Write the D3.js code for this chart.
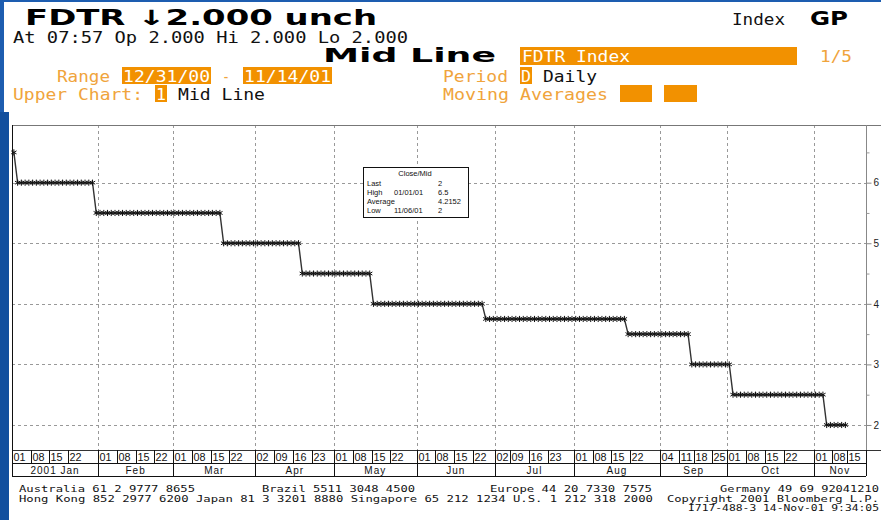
<!DOCTYPE html>
<html>
<head>
<meta charset="utf-8">
<title>FDTR Index - Mid Line</title>
<script src="https://cdnjs.cloudflare.com/ajax/libs/d3/7.8.5/d3.min.js"></script>
<style>
  body { margin: 0; background: #fff; }
  svg { display: block; }
</style>
</head>
<body>
<svg id="chart" width="881" height="520"></svg>
<script>
// fed funds target: first day each level prints, and the level
var changeDates = ["2001-01-01", "2001-01-02", "2001-01-31", "2001-03-20", "2001-04-18", "2001-05-15",
                   "2001-06-27", "2001-08-21", "2001-09-17", "2001-10-02", "2001-11-06"];
var targetRates = [6.5, 6.0, 5.5, 5.0, 4.5, 4.0, 3.75, 3.5, 3.0, 2.5, 2.0];

// weekdays without a print
var closedDays = ["2001-05-28", "2001-07-04", "2001-09-03", "2001-09-11", "2001-11-12"];

var monthNames = ["2001 Jan", "Feb", "Mar", "Apr", "May", "Jun", "Jul", "Aug", "Sep", "Oct", "Nov"];
var weekLabels = [
    ["01", "08", "15", "22"], ["01", "08", "15", "22"], ["01", "08", "15", "22"], ["02", "09", "16", "23"],
    ["01", "08", "15", "22"], ["01", "08", "15", "22"], ["02", "09", "16", "23"], ["01", "08", "15", "22"],
    ["04", "11", "18", "25"], ["01", "08", "15", "22"], ["01", "08", "15"]
];
var yTicks = [2, 3, 4, 5, 6];
var yMinor = [2.5, 3.5, 4.5, 5.5, 6.5];
var statRows = [["Last", "", "2"], ["High", "01/01/01", "6.5"], ["Average", "", "4.2152"], ["Low", "11/06/01", "2"]];

var footerLines = [
    ["Australia 61 2 9777 8655", 19, 492, 176],
    ["Brazil 5511 3048 4500", 262, 492, 153],
    ["Europe 44 20 7330 7575", 490, 492, 162],
    ["Germany 49 69 92041210", 720, 492, 159],
    ["Hong Kong 852 2977 6200 Japan 81 3 3201 8880 Singapore 65 212 1234 U.S. 1 212 318 2000", 19, 501.5, 634],
    ["Copyright 2001 Bloomberg L.P.", 667, 501.5, 212],
    ["I717-488-3 14-Nov-01  9:34:05", 688, 511, 191]
];

var svg = d3.select("#chart");
var orange = "#f0a43c", orangeBox = "#f29100";

var parse = d3.timeParse("%Y-%m-%d"),
    fmt = d3.timeFormat("%Y-%m-%d");

// trading calendar
var days = d3.timeDay.range(new Date(2001, 0, 1), new Date(2001, 10, 15))
    .filter(function (d) { return d.getDay() > 0 && d.getDay() < 6 && closedDays.indexOf(fmt(d)) < 0; });
var changes = changeDates.map(parse);
var series = days.map(function (d, i) {
    return { i: i, v: targetRates[d3.bisectRight(changes, d) - 1] };
});

var plotL = 12, plotR = 866, plotT = 125, plotB = 450;
var x = d3.scaleLinear().domain([-0.5, days.length + 4.5]).range([plotL, plotR]);
var y = d3.scaleLinear().domain([1.587, 6.952]).range([plotB, plotT]);

function dayIndex(date) { return d3.bisectLeft(days, date); }

// frame edge (blue)
svg.append("rect").attr("x", 0).attr("y", 0).attr("width", 881).attr("height", 2).attr("fill", "#1d5db0");
svg.append("rect").attr("x", 0).attr("y", 0).attr("width", 4).attr("height", 112).attr("fill", "#1d5db0");
svg.append("rect").attr("x", 0).attr("y", 112).attr("width", 9).attr("height", 408).attr("fill", "#124f9e");

// month boundaries
var monthStart = monthNames.map(function (m, k) { return dayIndex(new Date(2001, k, 1)); });
var monthEdge = monthStart.map(function (i) { return x(i - 0.5); });
monthEdge.push(plotR);

var grid = svg.append("g").attr("stroke", "#999").attr("stroke-dasharray", "3,3").attr("stroke-width", 1);
grid.selectAll(".hg").data(yTicks).enter().append("line")
    .attr("x1", plotL).attr("x2", plotR)
    .attr("y1", function (d) { return Math.round(y(d)) + 0.5; })
    .attr("y2", function (d) { return Math.round(y(d)) + 0.5; });
grid.selectAll(".vg").data(monthEdge.slice(1, -1)).enter().append("line")
    .attr("y1", plotT).attr("y2", plotB)
    .attr("x1", function (d) { return Math.round(d) + 0.5; })
    .attr("x2", function (d) { return Math.round(d) + 0.5; });

// plot frame
svg.append("line").attr("x1", plotL).attr("x2", 881).attr("y1", plotT + 0.5).attr("y2", plotT + 0.5).attr("stroke", "#777");
svg.append("line").attr("x1", plotL).attr("x2", 881).attr("y1", plotB + 0.5).attr("y2", plotB + 0.5).attr("stroke", "#333");
svg.append("line").attr("x1", plotR + 0.5).attr("x2", plotR + 0.5).attr("y1", plotT).attr("y2", plotB).attr("stroke", "#888");

// right axis
var yAxis = svg.append("g").attr("transform", "translate(" + (plotR + 0.5) + ",0)")
    .call(d3.axisRight(y).tickValues(yTicks).tickSize(5).tickPadding(2).tickFormat(d3.format("d")));
yAxis.select(".domain").remove();
yAxis.selectAll("line").attr("stroke", "#888");
yAxis.selectAll("text").attr("font-family", "Liberation Sans").attr("font-size", 10).attr("fill", "#222");
svg.append("g").attr("transform", "translate(" + (plotR + 0.5) + ",0)")
    .call(d3.axisRight(y).tickValues(yMinor).tickSize(3).tickFormat(""))
    .call(function (g) { g.select(".domain").remove(); g.selectAll("line").attr("stroke", "#999"); });

// series
svg.append("path").datum(series)
    .attr("fill", "none").attr("stroke", "#333").attr("stroke-width", 1.4)
    .attr("d", d3.line().x(function (d) { return x(d.i); }).y(function (d) { return y(d.v); }));
svg.append("g").selectAll("path").data(series).enter().append("path")
    .attr("transform", function (d) { return "translate(" + x(d.i) + "," + y(d.v) + ")"; })
    .attr("d", d3.symbol().type(d3.symbolAsterisk).size(26))
    .attr("fill", "none").attr("stroke", "#111").attr("stroke-width", 1);

// stats box
var box = svg.append("g").attr("font-family", "Liberation Sans").attr("font-size", 7.5).attr("fill", "#111");
box.append("rect").attr("x", 363.5).attr("y", 167.5).attr("width", 105).attr("height", 50)
    .attr("fill", "#fff").attr("stroke", "#111");
box.append("text").attr("x", 415).attr("y", 176).attr("text-anchor", "middle").text("Close/Mid");
statRows.forEach(function (r, k) {
    var yy = 185.5 + k * 9;
    box.append("text").attr("x", 367).attr("y", yy).text(r[0]);
    box.append("text").attr("x", 394).attr("y", yy).text(r[1]);
    box.append("text").attr("x", 438).attr("y", yy).text(r[2]);
});

// date axis rows
var rowMid = 463, rowBot = 476;
var ax = svg.append("g").attr("stroke", "#111").attr("stroke-width", 1);
ax.append("line").attr("x1", plotL).attr("x2", plotR).attr("y1", rowMid + 0.5).attr("y2", rowMid + 0.5);
ax.append("line").attr("x1", plotL).attr("x2", plotR).attr("y1", rowBot + 0.5).attr("y2", rowBot + 0.5);
ax.append("line").attr("x1", plotL + 0.5).attr("x2", plotL + 0.5).attr("y1", plotT).attr("y2", rowBot);
ax.append("line").attr("x1", plotR + 0.5).attr("x2", plotR + 0.5).attr("y1", plotB).attr("y2", rowBot);
ax.selectAll(".ms").data(monthEdge.slice(1, -1)).enter().append("line")
    .attr("x1", function (d) { return Math.round(d) + 0.5; })
    .attr("x2", function (d) { return Math.round(d) + 0.5; })
    .attr("y1", plotB).attr("y2", rowBot);

var dayTicks = [];
weekLabels.forEach(function (labels, k) {
    labels.forEach(function (s) {
        dayTicks.push({ s: s, i: dayIndex(new Date(2001, k, +s)) });
    });
});
ax.selectAll(".ds").data(dayTicks).enter().append("line")
    .attr("x1", function (d) { return Math.round(x(d.i - 0.5)) + 0.5; })
    .attr("x2", function (d) { return Math.round(x(d.i - 0.5)) + 0.5; })
    .attr("y1", plotB).attr("y2", rowMid);
svg.append("g").selectAll("text").data(dayTicks).enter().append("text")
    .attr("x", function (d) { return Math.round(x(d.i - 0.5)) + 1.5; })
    .attr("y", rowMid - 2.5)
    .attr("font-family", "Liberation Sans").attr("font-size", 10)
    .attr("textLength", 12).attr("lengthAdjust", "spacingAndGlyphs")
    .attr("fill", "#111").text(function (d) { return d.s; });
svg.append("g").selectAll("text").data(monthNames).enter().append("text")
    .attr("x", function (d, k) { return (monthEdge[k] + monthEdge[k + 1]) / 2; })
    .attr("y", rowBot - 2.5).attr("text-anchor", "middle")
    .attr("font-family", "Liberation Sans").attr("font-size", 10).attr("letter-spacing", 1)
    .attr("fill", "#111").text(function (d) { return d; });

// header
function label(x0, y0, s, size, width, color, weight, family) {
    return svg.append("text").attr("x", x0).attr("y", y0)
        .attr("font-family", family || "DejaVu Sans Mono").attr("font-size", size)
        .attr("font-weight", weight || "normal").attr("fill", color || "#111")
        .attr("textLength", width).attr("lengthAdjust", "spacingAndGlyphs").text(s);
}
function box2(x0, y0, w, h) {
    svg.append("rect").attr("x", x0).attr("y", y0).attr("width", w).attr("height", h).attr("fill", orangeBox);
}

label(25, 25, "FDTR \u21932.000 unch", 21, 352, "#000", "bold", "DejaVu Sans");
label(13, 43, "At 07:57  Op 2.000 Hi 2.000 Lo 2.000", 16, 395, "#111", "normal");
label(732, 25, "Index", 16, 53, "#111");
label(810, 25, "GP", 20, 38, "#000", "bold", "DejaVu Sans");
label(323, 62, "Mid Line", 20, 173, "#000", "bold", "DejaVu Sans");

box2(520, 47, 277, 18);
label(522, 62, "FDTR Index", 16, 108, "#fff");
label(820, 62, "1/5", 16, 32, orange);

label(57, 82, "Range", 16, 53, orange);
box2(122, 67, 89, 17);
label(123, 82, "12/31/00", 16, 87, "#fff");
label(222, 82, "-", 16, 8, orange);
box2(243, 67, 89, 17);
label(244, 82, "11/14/01", 16, 87, "#fff");

label(13, 100, "Upper Chart:", 16, 130, orange);
box2(155, 85, 12, 17);
label(156, 100, "1", 16, 10, "#fff");
label(178, 100, "Mid Line", 16, 87, "#111");

label(443, 82, "Period", 16, 65, orange);
box2(520, 67, 12, 17);
label(521, 82, "D", 16, 10, "#fff");
label(543, 82, "Daily", 16, 54, "#111");

label(443, 100, "Moving Averages", 16, 165, orange);
box2(620, 85, 32, 17);
box2(664, 85, 33, 17);

// footer
footerLines.forEach(function (f) {
    label(f[1], f[2], f[0], 8.8, f[3], "#111", "normal", "DejaVu Sans Mono");
});
</script>
</body>
</html>
